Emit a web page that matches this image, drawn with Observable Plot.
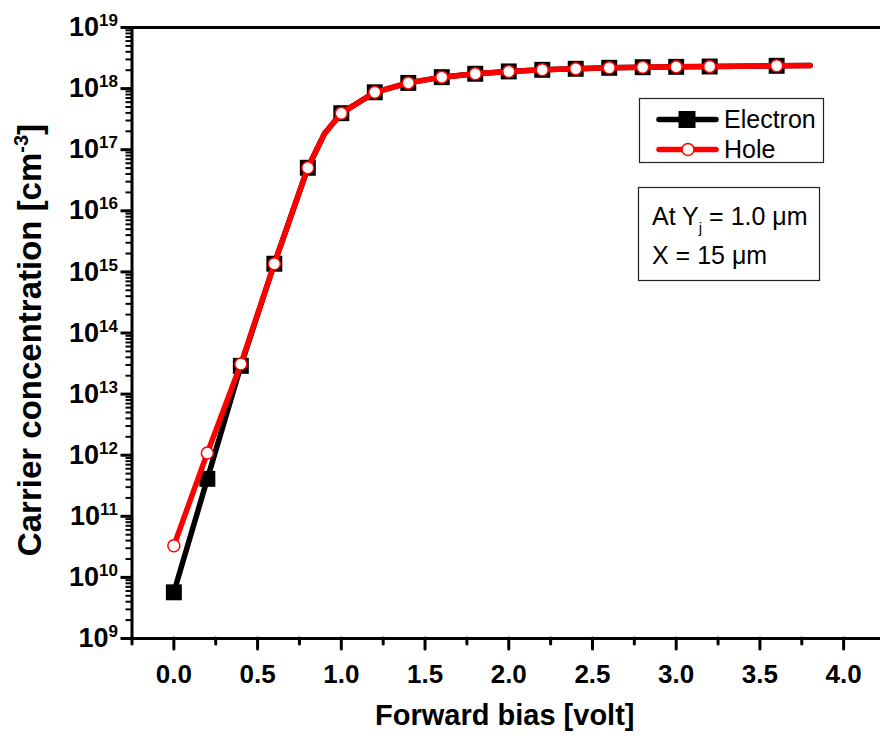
<!DOCTYPE html>
<html>
<head>
<meta charset="utf-8">
<script src="https://cdn.jsdelivr.net/npm/d3@7"></script>
<script src="https://cdn.jsdelivr.net/npm/@observablehq/plot@0.6"></script>
<style>
  body { margin: 0; background: #fff; }
  #wrap { position: relative; width: 880px; height: 745px; overflow: hidden; background: #fff;
          font-family: "Liberation Sans", Arial, sans-serif; }
  #wrap > svg.overlay { position: absolute; left: 0; top: 0; }
  #wrap > svg:first-child { max-width: none !important; }
</style>
</head>
<body>
<div id="wrap"></div>
<script>
// ---- data ----
const bias = [0, 0.2, 0.4, 0.6, 0.8, 1.0, 1.2, 1.4, 1.6, 1.8, 2.0, 2.2, 2.4, 2.6, 2.8, 3.0, 3.2, 3.6];
const electron = [5.7e9, 4.1e11, 2.9e13, 1.36e15, 5.06e16, 3.96e17, 8.7e17, 1.24e18, 1.54e18, 1.75e18,
                  1.91e18, 2.03e18, 2.11e18, 2.19e18, 2.24e18, 2.27e18, 2.30e18, 2.36e18];
const hole = [3.3e10, 1.09e12, 3.1e13, 1.36e15, 5.06e16, 3.96e17, 8.7e17, 1.24e18, 1.54e18, 1.75e18,
              1.91e18, 2.03e18, 2.11e18, 2.19e18, 2.24e18, 2.27e18, 2.30e18, 2.36e18];
// extra curve points (line only, no marker)
const curveBias = [0.9, 3.8];
const curveElectron = [1.84e17, 2.39e18];
const curveHole = [1.84e17, 2.39e18];

const xMajorTicks = [0, 0.5, 1.0, 1.5, 2.0, 2.5, 3.0, 3.5, 4.0];
const xMinorTicks = [-0.25, 0.25, 0.75, 1.25, 1.75, 2.25, 2.75, 3.25, 3.75];
const yExponents = [9, 10, 11, 12, 13, 14, 15, 16, 17, 18, 19];
const seriesNames = ["Electron", "Hole"];
const xTitle = "Forward bias [volt]";
const yTitleMain = "Carrier concentration [cm";
const yTitleSup = "-3";
const yTitleEnd = "]";
const noteLine1 = ["At Y", "j", " = 1.0 \u03bcm"];
const noteLine2 = "X = 15 \u03bcm";

// ---- derived tables ----
const markerRows = vals => bias.map((x, i) => ({x, y: vals[i]}));
const lineRows = (vals, cvals) =>
  [...markerRows(vals), ...curveBias.map((x, i) => ({x, y: cvals[i]}))].sort((a, b) => a.x - b.x);
const yMajor = yExponents.map(e => Math.pow(10, e));
const yMinor = [];
yExponents.slice(0, -1).forEach(e => { for (let k = 2; k <= 9; k++) yMinor.push(k * Math.pow(10, e)); });
const xLabelFmt = d3.format(".1f");

const FONT = "Liberation Sans, Arial, sans-serif";

const plot = Plot.plot({
  width: 885,
  height: 745,
  marginLeft: 131.5,
  marginRight: 0,
  marginTop: 27,
  marginBottom: 107,
  style: {fontFamily: FONT, background: "white", color: "black"},
  x: {domain: [-0.25, 4.25]},
  y: {type: "log", domain: [1e9, 1e19]},
  marks: [
    Plot.axisX(xMinorTicks, {tickSize: 6, strokeWidth: 3, strokeLinecap: "round", tickFormat: () => "", label: null}),
    Plot.axisX(xMajorTicks, {tickSize: 11, strokeWidth: 3, strokeLinecap: "round", tickPadding: 15,
      tickFormat: xLabelFmt, fontSize: 26, fontWeight: "bold", label: null}),
    Plot.axisY(yMinor, {tickSize: 6, strokeWidth: 2, tickFormat: () => "", label: null}),
    Plot.axisY(yMajor, {tickSize: 11, strokeWidth: 3, tickPadding: 3,
      tickFormat: d => "10^" + Math.round(Math.log10(d)), fontSize: 27, fontWeight: "bold", label: null}),
    Plot.frame({stroke: "black", strokeWidth: 3}),
    Plot.line(lineRows(electron, curveElectron), {x: "x", y: "y", stroke: "black", strokeWidth: 5.5}),
    Plot.dot(markerRows(electron), {x: "x", y: "y", symbol: "square", r: 9, fill: "black", stroke: "none"}),
    Plot.line(lineRows(hole, curveHole), {x: "x", y: "y", stroke: "#ff0000", strokeWidth: 5.5}),
    Plot.dot(markerRows(hole), {x: "x", y: "y", symbol: "circle", r: 6, fill: "white", stroke: "#ff0000", strokeWidth: 1.5}),
    Plot.text([xTitle], {text: d => d, frameAnchor: "bottom", lineAnchor: "middle", dx: -4, dy: 77,
      fontSize: 29, fontWeight: "bold"}),
    Plot.text([yTitleMain], {text: d => d, frameAnchor: "left", rotate: -90, lineAnchor: "middle",
      textAnchor: "middle", dx: -102, dy: 7, fontSize: 33, fontWeight: "bold"})
  ]
});

// superscripts in y tick labels and title
d3.select(plot).selectAll("text").each(function () {
  const t = this.textContent;
  const s = d3.select(this);
  const m = /^10\^(\d+)$/.exec(t);
  if (m) {
    s.text("10");
    s.append("tspan").attr("dy", -10).style("font-size", "17px").text(m[1]);
  } else if (t === yTitleMain) {
    s.append("tspan").attr("dy", -13).style("font-size", "20px").text(yTitleSup);
    s.append("tspan").attr("dy", 13).text(yTitleEnd);
  }
});

const wrap = document.getElementById("wrap");
wrap.appendChild(plot);

// ---- legend and note overlay ----
const ov = d3.select(wrap).append("svg").attr("class", "overlay")
  .attr("width", 880).attr("height", 745)
  .style("font-family", FONT);

// legend box
ov.append("rect").attr("x", 639.5).attr("y", 98.5).attr("width", 184).attr("height", 64)
  .attr("fill", "white").attr("stroke", "#222").attr("stroke-width", 1.2);
const legY = [119.5, 149.5];
const legColors = ["black", "#ff0000"];
seriesNames.forEach((name, i) => {
  ov.append("line").attr("x1", 659).attr("x2", 716).attr("y1", legY[i]).attr("y2", legY[i])
    .attr("stroke", legColors[i]).attr("stroke-width", 5.5).attr("stroke-linecap", "round");
  if (i === 0) {
    ov.append("rect").attr("x", 678.5).attr("y", legY[i] - 8.5).attr("width", 17).attr("height", 17).attr("fill", "black");
  } else {
    ov.append("circle").attr("cx", 688).attr("cy", legY[i]).attr("r", 6)
      .attr("fill", "white").attr("stroke", "#ff0000").attr("stroke-width", 1.5);
  }
  ov.append("text").attr("x", 724).attr("y", legY[i] + 8.5).attr("font-size", 25).text(name);
});

// note box
ov.append("rect").attr("x", 638.5).attr("y", 187.5).attr("width", 181).attr("height", 93)
  .attr("fill", "white").attr("stroke", "#222").attr("stroke-width", 1.2);
const n1 = ov.append("text").attr("x", 652).attr("y", 225).attr("font-size", 25);
n1.append("tspan").text(noteLine1[0]);
n1.append("tspan").attr("dy", 8).attr("font-size", 15).text(noteLine1[1]);
n1.append("tspan").attr("dy", -8).text(noteLine1[2]);
ov.append("text").attr("x", 652).attr("y", 263.5).attr("font-size", 25).text(noteLine2);
</script>
</body>
</html>
